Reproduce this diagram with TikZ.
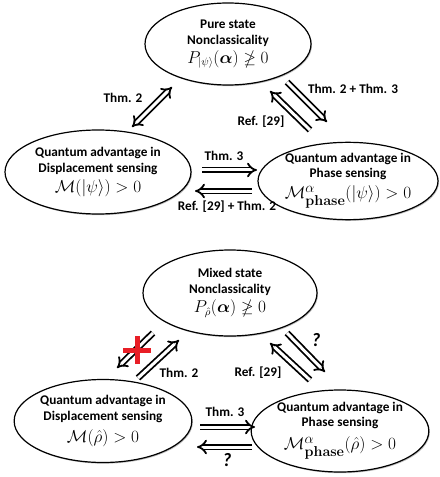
\documentclass[tikz,border=0pt]{standalone}
\usepackage{amsmath,amssymb,bm}
\usepackage[no-math]{fontspec}
\setmainfont{Carlito}
\usetikzlibrary{shapes.geometric,arrows.meta,shadows}
\definecolor{crossred}{RGB}{232,30,38}
\newcommand{\eqsz}[1]{{\fontsize{16}{18}\selectfont #1}}
\newcommand{\eqbig}[1]{{\fontsize{19}{21}\selectfont #1}}
\begin{document}
\begin{tikzpicture}[x=1bp,y=-1bp,
  every node/.style={font=\bfseries\fontsize{13.3}{16}\selectfont},
  state/.style={ellipse, draw, line width=1.2bp, fill=white, inner sep=0pt, align=center,
    drop shadow={shadow xshift=1bp, shadow yshift=-1.2bp, fill=black!50, opacity=0.5}},
  imp/.style={double, double distance=3bp, line width=1.8bp, -{Implies}},
  biimp/.style={imp, {Implies}-{Implies}},
  qmark/.style={font=\bfseries\itshape\fontsize{19}{20}\selectfont},
  nogo/.style={crossred, line width=5bp}]
\useasboundingbox (0,0) rectangle (440,477);
\node[state, minimum width=166bp, minimum height=82bp] (pureNC) at (228,44) {Pure state\\Nonclassicality\\[3pt]\eqsz{$P_{|\psi\rangle}(\bm{\alpha})\ngeq 0$}};
\node[state, minimum width=186bp, minimum height=84bp] (pureDS) at (98,172) {Quantum advantage in\\Displacement sensing\\[5pt]\eqbig{$\mathcal{M}(|\psi\rangle)>0$}};
\node[state, minimum width=180bp, minimum height=76bp] (purePS) at (348,181) {Quantum advantage in\\[-1pt]Phase sensing\\[5pt]\eqbig{$\mathcal{M}^{\alpha}_{\mathbf{phase}}(|\psi\rangle)>0$}};
\coordinate (p1) at (132,127);
\coordinate (p2) at (172,87);
\coordinate (p3) at (287,82);
\coordinate (p4) at (327,122);
\coordinate (p5) at (310,130);
\coordinate (p6) at (270,91);
\coordinate (p7) at (202,170);
\coordinate (p8) at (257,170);
\coordinate (p9) at (252,191);
\coordinate (p10) at (195,191);
\draw[biimp] (p1) -- (p2);
\draw[imp] (p3) -- (p4);
\draw[imp] (p5) -- (p6);
\draw[imp] (p7) -- (p8);
\draw[imp] (p9) -- (p10);
\node (lt1) at (123,98) {Thm. 2};
\node (lt2) at (353,89) {Thm. 2 + Thm. 3};
\node (lt3) at (261,122) {Ref. [29]};
\node (lt4) at (224,156) {Thm. 3};
\node (lt5) at (227,207) {Ref. [29] + Thm. 2};
\node[state, minimum width=174bp, minimum height=86bp] (mixNC) at (230,293) {Mixed state\\Nonclassicality\\[3pt]\eqsz{$P_{\hat{\rho}}(\bm{\alpha})\ngeq 0$}};
\node[state, minimum width=177bp, minimum height=83bp] (mixDS) at (103,421) {Quantum advantage in\\Displacement sensing\\[7pt]\eqbig{$\mathcal{M}(\hat{\rho})>0$}};
\node[state, minimum width=166bp, minimum height=82bp] (mixPS) at (340,431) {Quantum advantage in\\[-1pt]Phase sensing\\[7pt]\eqbig{$\mathcal{M}^{\alpha}_{\mathbf{phase}}(\hat{\rho})>0$}};
\coordinate (m1) at (153,333);
\coordinate (m2) at (117,368);
\coordinate (m3) at (138,378);
\coordinate (m4) at (179,340);
\coordinate (m5) at (287,333);
\coordinate (m6) at (325,372);
\coordinate (m7) at (310,380);
\coordinate (m8) at (270,343);
\coordinate (m9) at (200,427);
\coordinate (m10) at (255,427);
\coordinate (m11) at (252,447);
\coordinate (m12) at (197,447);
\draw[imp] (m1) -- (m2);
\draw[imp] (m3) -- (m4);
\draw[imp] (m5) -- (m6);
\draw[imp] (m7) -- (m8);
\draw[imp] (m9) -- (m10);
\draw[imp] (m11) -- (m12);
\coordinate (cross) at (137,350);
\draw[nogo] (cross) ++(-14,0) -- ++(28,0);
\draw[nogo] (cross) ++(0,-14) -- ++(0,28);
\node (lb1) at (179,373) {Thm. 2};
\node[qmark] (lb2) at (316,340) {?};
\node (lb3) at (258,373) {Ref. [29]};
\node (lb4) at (225,412) {Thm. 3};
\node[qmark] (lb5) at (227,460) {?};
\end{tikzpicture}
\end{document}
